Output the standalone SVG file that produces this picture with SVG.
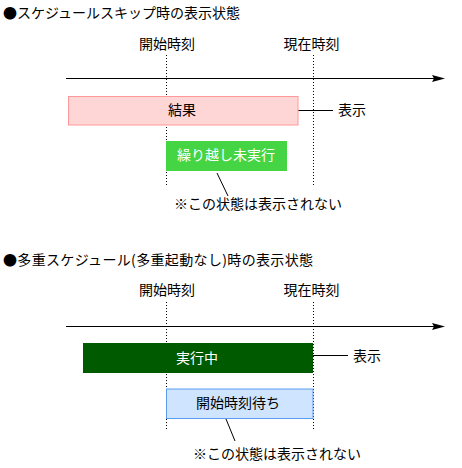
<svg xmlns="http://www.w3.org/2000/svg" width="462" height="468" viewBox="0 0 462 468">
<style>
text{font-family:"Noto Sans CJK JP","Noto Sans",sans-serif;font-size:14px;fill:#000}
.w{fill:#fff}
.m{text-anchor:middle}
.dot{stroke:#000;stroke-width:1;stroke-dasharray:1 2;fill:none}
.ln{stroke:#000;stroke-width:1;fill:none}
</style>
<rect width="462" height="468" fill="#fff"/>
<g id="section1">
<text x="3" y="18">●スケジュールスキップ時の表示状態</text>
<text x="167" y="49" class="m">開始時刻</text>
<text x="311.5" y="49" class="m">現在時刻</text>
</g>
<g id="connectors">
<line class="dot" x1="166.5" y1="55" x2="166.5" y2="186"/>
<line class="dot" x1="313.5" y1="55" x2="313.5" y2="186"/>
<line class="dot" x1="166.5" y1="302" x2="166.5" y2="431"/>
<line class="dot" x1="313.5" y1="302" x2="313.5" y2="431"/>
<line class="ln" x1="66" y1="78.5" x2="434" y2="78.5"/>
<path d="M432,75 L445,78.5 L432,82 L434,78.5 Z" fill="#000"/>
<line class="ln" x1="66" y1="326.5" x2="434" y2="326.5"/>
<path d="M432,323 L445,326.5 L432,330 L434,326.5 Z" fill="#000"/>
<line class="ln" x1="298" y1="110.5" x2="333" y2="110.5"/>
<line class="ln" x1="217" y1="173" x2="228" y2="196"/>
<line class="ln" x1="313" y1="355.5" x2="348" y2="355.5"/>
<line class="ln" x1="226" y1="419" x2="235" y2="441"/>
</g>
<g id="result">
<rect x="68.5" y="96.5" width="229.5" height="28.5" fill="#ffd6d6" stroke="#f99" stroke-width="1"/>
<text x="182" y="115" class="m">結果</text>
</g>
<g id="label-show1"><text x="338" y="115">表示</text></g>
<g id="skipped">
<rect x="166" y="141" width="121" height="30" fill="#44d444"/>
<text x="226" y="160" class="m w">繰り越し未実行</text>
</g>
<g id="note1"><text x="174" y="209">※この状態は表示されない</text></g>
<g id="section2">
<text x="3" y="265" textLength="310" lengthAdjust="spacing">●多重スケジュール(多重起動なし)時の表示状態</text>
<text x="167" y="295" class="m">開始時刻</text>
<text x="311.5" y="295" class="m">現在時刻</text>
</g>
<g id="running">
<rect x="83" y="343" width="230" height="30" fill="#005a00"/>
<text x="197" y="362.5" class="m w">実行中</text>
</g>
<g id="label-show2"><text x="353" y="361">表示</text></g>
<g id="waiting">
<rect x="166.5" y="389" width="146.5" height="29.5" fill="#cfe4ff" stroke="#5a9cf0" stroke-width="1"/>
<text x="238" y="408" class="m">開始時刻待ち</text>
</g>
<g id="note2"><text x="193" y="459">※この状態は表示されない</text></g>
</svg>
